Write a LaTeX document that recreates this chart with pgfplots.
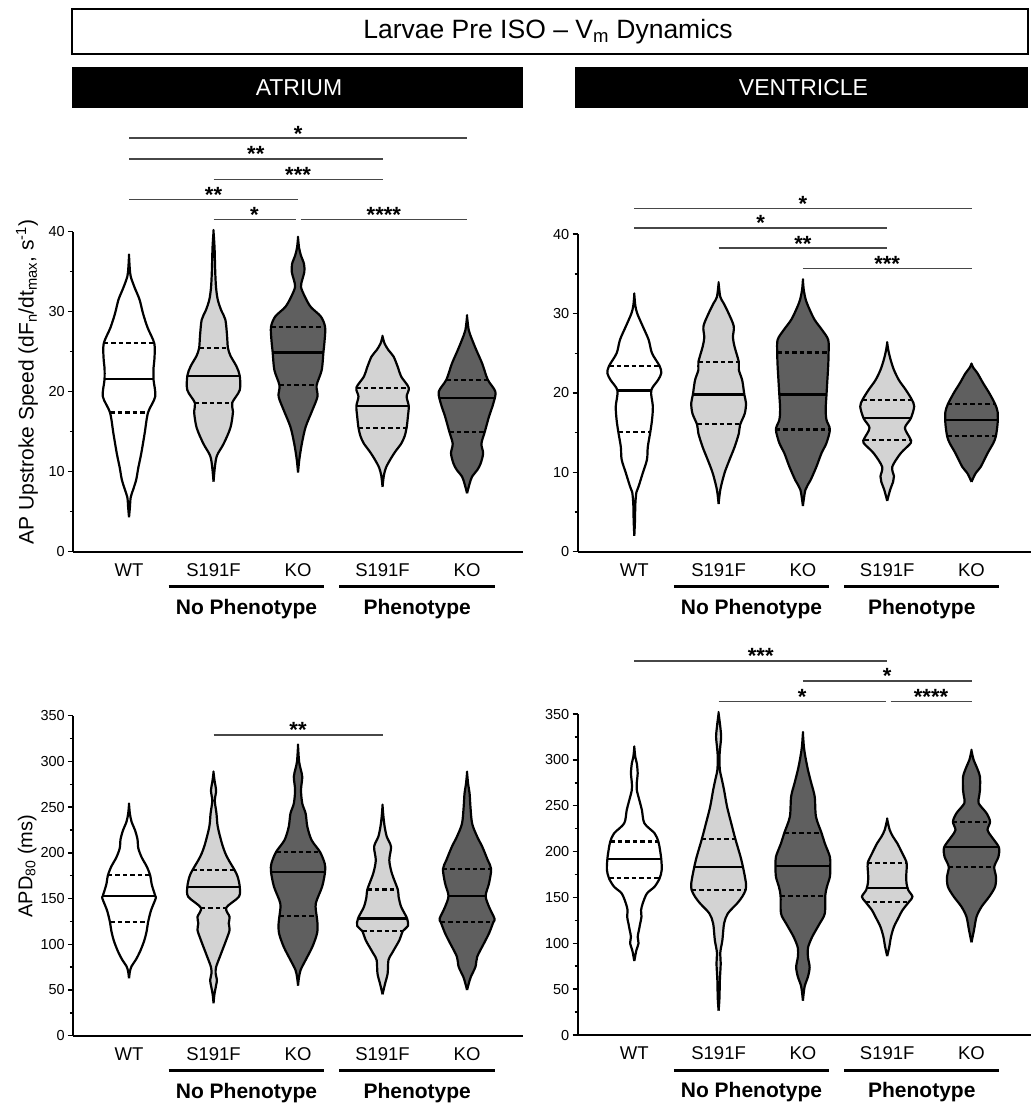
\documentclass[border=0pt]{standalone}
\usepackage{fontspec}
\setmainfont{Liberation Sans}
\usepackage{pgfplots}
\usepackage{pgfplotstable}
\pgfplotsset{compat=1.18}
\definecolor{lg}{HTML}{D3D3D3}
\definecolor{dg}{HTML}{5F5F5F}

% turn a half profile (y, w) into a closed outline: up the right side, down the left side
\newcommand{\mirror}[1]{%
  \pgfplotstablesort[sort key=y, sort cmp={float >}]{\tmprev}{#1}%
  \pgfplotstablecreatecol[create col/set={1}]{s}{#1}%
  \pgfplotstablecreatecol[create col/set={-1}]{s}{\tmprev}%
  \pgfplotstablevertcat{#1}{\tmprev}%
}

% ---------- violin profiles: y, half-width (category units) ----------
\pgfplotstableread{
y w
4.3 0
5.5 0.01
6.8 0.02
7.8 0.05
9.0 0.085
10.5 0.11
12.3 0.145
14.8 0.185
17.4 0.225
19.4 0.31
21.5 0.29
23.0 0.29
24.0 0.30
26.0 0.30
28.0 0.22
29.8 0.165
31.5 0.125
33.0 0.067
34.4 0.02
35.5 0.008
37.0 0
}\TLa
\pgfplotstableread{
y w
8.75 0
10.5 0.015
12.0 0.04
13.5 0.12
15.5 0.20
17.5 0.23
18.6 0.22
20.2 0.31
22.0 0.31
23.2 0.27
24.5 0.20
25.5 0.17
27.0 0.16
29.0 0.14
30.2 0.09
31.5 0.05
33.0 0.03
35.0 0.02
38.0 0.012
40.0 0
}\TLb
\pgfplotstableread{
y w
9.9 0
11.5 0.015
13.5 0.045
15.6 0.09
17.7 0.17
19.4 0.23
20.8 0.22
22.7 0.28
24.9 0.30
26.5 0.315
28.1 0.32
29.4 0.27
30.6 0.15
31.9 0.08
33.1 0.035
34.0 0.05
35.0 0.075
36.0 0.07
37.0 0.035
38.0 0.012
39.25 0
}\TLc
\pgfplotstableread{
y w
8.1 0
9.5 0.015
10.5 0.04
11.5 0.09
12.5 0.15
13.5 0.22
14.4 0.26
15.5 0.285
16.9 0.30
18.2 0.31
19.4 0.285
20.5 0.31
21.9 0.22
23.1 0.18
24.4 0.13
25.2 0.07
26.0 0.025
26.9 0
}\TLd
\pgfplotstableread{
y w
7.3 0
8.5 0.03
9.4 0.06
10.2 0.12
11.0 0.16
12.3 0.19
13.5 0.17
15.0 0.21
16.9 0.26
18.5 0.31
20.0 0.335
21.5 0.245
23.5 0.18
25.2 0.11
26.5 0.06
27.7 0.02
29.4 0
}\TLe
% quartile (dashed) and median (solid) segments: c, +-half width, y
\pgfplotstableread{
c d y
1 -0.225 17.4
1 0.225 17.4
1 0 nan
1 -0.30 26.1
1 0.30 26.1
1 0 nan
2 -0.22 18.6
2 0.22 18.6
2 0 nan
2 -0.17 25.5
2 0.17 25.5
2 0 nan
3 -0.22 20.8
3 0.22 20.8
3 0 nan
3 -0.32 28.1
3 0.32 28.1
3 0 nan
4 -0.285 15.5
4 0.285 15.5
4 0 nan
4 -0.31 20.5
4 0.31 20.5
4 0 nan
5 -0.21 15.0
5 0.21 15.0
5 0 nan
5 -0.245 21.5
5 0.245 21.5
}\TLq
\pgfplotstableread{
c d y
1 -0.29 21.6
1 0.29 21.6
1 0 nan
2 -0.31 22.0
2 0.31 22.0
2 0 nan
3 -0.30 24.9
3 0.30 24.9
3 0 nan
4 -0.31 18.2
4 0.31 18.2
4 0 nan
5 -0.32 19.25
5 0.32 19.25
}\TLm

\pgfplotstableread{
y w
2 0
4 0.008
6 0.012
7.5 0.025
8.2 0.05
9.9 0.10
11.6 0.15
13.2 0.16
15.1 0.19
16.6 0.21
18.3 0.22
20.3 0.20
21.6 0.28
22.5 0.32
23.4 0.30
25 0.21
26.7 0.17
28.4 0.10
30 0.035
31 0.012
32.4 0
}\TRa
\pgfplotstableread{
y w
6 0
7.8 0.02
9.9 0.07
11.6 0.13
13.2 0.19
14.9 0.24
16 0.255
17.4 0.31
18.7 0.325
19.8 0.305
21.6 0.28
22.9 0.24
23.9 0.24
25.8 0.19
27 0.17
28.4 0.18
30 0.12
31.3 0.06
32.1 0.02
33.8 0
}\TRb
\pgfplotstableread{
y w
5.75 0
7.8 0.03
9 0.09
10.7 0.16
12.4 0.22
13.7 0.28
15.4 0.32
16.6 0.28
17.9 0.27
19.8 0.28
21.6 0.29
23.4 0.30
25.1 0.305
26.7 0.30
27.9 0.23
29.2 0.14
30.5 0.08
31.7 0.035
33 0.01
34.2 0
}\TRc
\pgfplotstableread{
y w
6.4 0
7.8 0.035
8.8 0.07
9.5 0.08
10.7 0.06
12.4 0.16
13.7 0.28
14.3 0.27
15.6 0.21
16.8 0.28
18.3 0.32
19.2 0.29
20.4 0.22
21.6 0.14
22.9 0.08
24.2 0.04
25.3 0.015
26.3 0
}\TRd
\pgfplotstableread{
y w
8.8 0
9.9 0.05
10.7 0.11
12.4 0.19
13.7 0.26
14.6 0.29
16.2 0.31
17.6 0.31
18.6 0.28
20 0.21
21.2 0.14
22.5 0.07
23.2 0.02
23.7 0
}\TRe
\pgfplotstableread{
c d y
1 -0.19 15.1
1 0.19 15.1
1 0 nan
1 -0.30 23.4
1 0.30 23.4
1 0 nan
2 -0.255 16.05
2 0.255 16.05
2 0 nan
2 -0.24 23.9
2 0.24 23.9
2 0 nan
3 -0.32 15.4
3 0.32 15.4
3 0 nan
3 -0.305 25.1
3 0.305 25.1
3 0 nan
4 -0.27 14.1
4 0.27 14.1
4 0 nan
4 -0.29 19.1
4 0.29 19.1
4 0 nan
5 -0.29 14.6
5 0.29 14.6
5 0 nan
5 -0.28 18.6
5 0.28 18.6
}\TRq
\pgfplotstableread{
c d y
1 -0.20 20.3
1 0.20 20.3
1 0 nan
2 -0.305 19.8
2 0.305 19.8
2 0 nan
3 -0.28 19.8
3 0.28 19.8
3 0 nan
4 -0.28 16.8
4 0.28 16.8
4 0 nan
5 -0.31 16.6
5 0.31 16.6
}\TRm

\pgfplotstableread{
y w
62.7 0
70 0.01
76 0.03
83 0.08
92 0.13
104 0.18
115 0.21
124 0.225
137 0.26
150 0.315
153 0.31
165 0.27
175.4 0.25
185 0.21
195 0.15
205 0.11
215 0.10
225 0.07
234 0.03
243 0.01
253 0
}\BLa
\pgfplotstableread{
y w
35.4 0
45 0.01
55 0.03
61 0.04
68 0.025
75 0.03
86.4 0.075
104.6 0.15
115.6 0.19
122.9 0.18
130 0.19
140 0.15
152 0.30
163 0.31
174 0.285
181 0.25
192 0.18
199.4 0.14
210 0.10
228.6 0.05
243 0.035
257 0.015
268 0.03
279 0.012
288 0
}\BLb
\pgfplotstableread{
y w
54.7 0
63 0.01
71.8 0.03
82.8 0.09
97.3 0.17
112 0.225
123 0.23
131 0.22
144.7 0.21
163 0.285
179.4 0.32
188.5 0.315
201 0.26
214 0.16
228.6 0.11
243 0.09
254 0.05
268.7 0.035
283 0.05
292 0.03
300 0.012
316.8 0
}\BLc
\pgfplotstableread{
y w
45.2 0
57 0.03
68 0.06
82.8 0.07
90 0.11
104.6 0.20
114.5 0.24
120 0.30
128.3 0.29
141 0.22
152 0.19
160 0.18
177.6 0.11
192 0.08
206.7 0.10
217.7 0.05
228.6 0.025
240 0.01
251.6 0
}\BLd
\pgfplotstableread{
y w
50 0
57 0.02
64.5 0.045
75.5 0.10
86.4 0.12
101 0.20
112 0.26
124 0.31
128 0.325
141 0.26
153 0.22
166.6 0.26
182.3 0.285
192 0.245
206.7 0.18
217.7 0.12
232 0.06
250.5 0.04
265 0.03
276 0.012
287.7 0
}\BLe
\pgfplotstableread{
c d y
1 -0.225 124
1 0.225 124
1 0 nan
1 -0.25 175.4
1 0.25 175.4
1 0 nan
2 -0.15 140
2 0.15 140
2 0 nan
2 -0.25 181.2
2 0.25 181.2
2 0 nan
3 -0.22 130.9
3 0.22 130.9
3 0 nan
3 -0.26 200.9
3 0.26 200.9
3 0 nan
4 -0.24 114.5
4 0.24 114.5
4 0 nan
4 -0.18 160
4 0.18 160
4 0 nan
5 -0.31 124
5 0.31 124
5 0 nan
5 -0.285 182.3
5 0.285 182.3
}\BLq
\pgfplotstableread{
c d y
1 -0.31 153
1 0.31 153
1 0 nan
2 -0.31 163
2 0.31 163
2 0 nan
3 -0.32 179.4
3 0.32 179.4
3 0 nan
4 -0.29 128.3
4 0.29 128.3
4 0 nan
5 -0.22 153
5 0.22 153
}\BLm

\pgfplotstableread{
y w
80.7 0
92.7 0.025
100 0.05
107 0.04
114.5 0.055
121.7 0.07
129 0.085
136 0.08
143.5 0.10
154.4 0.15
161.7 0.24
170.8 0.30
180 0.325
191.5 0.32
201.7 0.305
211 0.285
220 0.24
230.8 0.12
245.3 0.09
256 0.06
267 0.03
276 0.03
285 0.04
296 0.03
303 0.012
313.6 0
}\BRa
\pgfplotstableread{
y w
26.5 0
40 0.01
60 0.015
78 0.025
90 0.02
103.6 0.045
121.7 0.065
132.6 0.11
143.5 0.22
150.8 0.28
158 0.32
165 0.325
176 0.305
182.8 0.29
194.4 0.26
213.3 0.20
230.8 0.15
249 0.10
267 0.065
278 0.04
289 0.015
303 0.01
315 0.02
325 0.03
336 0.02
350.7 0
}\BRb
\pgfplotstableread{
y w
37.4 0
52.7 0.02
63.6 0.06
74 0.08
85 0.06
95 0.06
107 0.11
121.7 0.20
132.6 0.26
152 0.265
161.7 0.285
172.6 0.32
184.2 0.325
194.4 0.32
209 0.26
220.6 0.22
238 0.155
259.8 0.14
274.4 0.10
289 0.06
303 0.03
314 0.012
328.9 0
}\BRc
\pgfplotstableread{
y w
86 0
96.3 0.025
107 0.045
118 0.08
129 0.14
136 0.18
145.4 0.26
150.8 0.30
158 0.25
165 0.23
172.6 0.225
180 0.23
188 0.23
198 0.18
209 0.12
216 0.07
223.5 0.03
235 0
}\BRd
\pgfplotstableread{
y w
101 0
114.5 0.03
129 0.06
140 0.12
150.8 0.21
161.7 0.28
172.6 0.29
183.5 0.27
194.4 0.32
204.6 0.325
216 0.24
223.5 0.19
232.6 0.22
241.7 0.18
252.6 0.085
260 0.09
267 0.10
281.6 0.10
292.5 0.06
300 0.025
310 0
}\BRe
\pgfplotstableread{
c d y
1 -0.30 170.8
1 0.30 170.8
1 0 nan
1 -0.285 211
1 0.285 211
1 0 nan
2 -0.32 158
2 0.32 158
2 0 nan
2 -0.20 213.3
2 0.20 213.3
2 0 nan
3 -0.265 152
3 0.265 152
3 0 nan
3 -0.22 220.6
3 0.22 220.6
3 0 nan
4 -0.26 145.4
4 0.26 145.4
4 0 nan
4 -0.23 187.9
4 0.23 187.9
4 0 nan
5 -0.27 183.5
5 0.27 183.5
5 0 nan
5 -0.22 232.6
5 0.22 232.6
}\BRq
\pgfplotstableread{
c d y
1 -0.32 191.5
1 0.32 191.5
1 0 nan
2 -0.29 182.8
2 0.29 182.8
2 0 nan
3 -0.325 184.2
3 0.325 184.2
3 0 nan
4 -0.245 160.6
4 0.245 160.6
4 0 nan
5 -0.325 204.6
5 0.325 204.6
}\BRm

\mirror{\TLa}\mirror{\TLb}\mirror{\TLc}\mirror{\TLd}\mirror{\TLe}
\mirror{\TRa}\mirror{\TRb}\mirror{\TRc}\mirror{\TRd}\mirror{\TRe}
\mirror{\BLa}\mirror{\BLb}\mirror{\BLc}\mirror{\BLd}\mirror{\BLe}
\mirror{\BRa}\mirror{\BRb}\mirror{\BRc}\mirror{\BRd}\mirror{\BRe}

% ---------- helpers ----------
\newcommand{\violin}[3]{% table, center, fill
  \addplot[vline, fill=#3, smooth, forget plot] table[x expr={#2+\thisrow{s}*\thisrow{w}}, y=y] {#1};
}
\newcommand{\quarts}[2]{%
  \addplot[qline, dash pattern=on 4.5pt off 3pt] table[x expr={\thisrow{c}+\thisrow{d}}, y=y] {#1};
  \addplot[qline] table[x expr={\thisrow{c}+\thisrow{d}}, y=y] {#2};
}
\newcommand{\groups}{%
  \draw[line width=3pt] ([yshift=-35pt]axis cs:1.47,0) -- ([yshift=-35pt]axis cs:3.31,0);
  \draw[line width=3pt] ([yshift=-35pt]axis cs:3.49,0) -- ([yshift=-35pt]axis cs:5.33,0);
  \node[grp] at ([yshift=-62.5pt]axis cs:2.39,0) {No Phenotype};
  \node[grp] at ([yshift=-62.5pt]axis cs:4.41,0) {Phenotype};
}
\newcommand{\sigbar}[5]{% x1, x2, xmid, y, stars
  \draw[sig] (axis cs:#1,#4) -- (axis cs:#2,#4);
  \node[st] at (axis cs:#3,#4) {#5};
}

\pgfplotsset{
  vline/.style={draw=black, line width=2.2pt, mark=none, line join=round},
  qline/.style={black, line width=2.2pt, mark=none, forget plot, unbounded coords=jump},
  vaxis/.style={
    scale only axis, axis lines=left, axis line style={-, line width=2pt},
    clip=false, ymin=0,
    xtick={1,2,3,4,5}, xticklabels={WT,S191F,KO,S191F,KO},
    xtick style={draw=none},
    tick align=outside, major tick length=5pt, minor tick length=3pt,
    ytick style={black, line width=1.5pt},
    minor y tick num=1,
    /pgf/number format/assume math mode=true,
    yticklabel style={font=\fontsize{14.5}{14.5}\selectfont, inner sep=0pt, xshift=-3pt},
    xticklabel style={font=\fontsize{18.5}{18.5}\selectfont, inner sep=0pt, yshift=-6pt,
      text height=13.3pt, text depth=0pt},
    ylabel style={font=\fontsize{20}{20}\selectfont, at={(axis description cs:-0.102,0.53)}, anchor=center},
  },
}
\tikzset{
  sig/.style={black!72, line width=1.4pt},
  st/.style={font=\fontsize{22}{22}\selectfont\bfseries, anchor=base, inner sep=0pt, yshift=-3pt},
  grp/.style={font=\fontsize{21}{21}\selectfont\bfseries, anchor=base, inner sep=0pt},
}

\begin{document}
\begin{tikzpicture}
\path[use as bounding box] (0,0) rectangle (1032pt,-1104pt);

% ---- top left: atrium upstroke ----
\begin{axis}[vaxis, at={(73pt,-551.7pt)}, anchor=south west,
  width=450pt, height=320pt, xmin=0.337, xmax=5.662, ymax=40,
  ytick={0,10,20,30,40},
  ylabel style={font=\fontsize{21}{21}\selectfont},
  ylabel={AP Upstroke Speed (dF\textsubscript{n}/dt\textsubscript{max}, s\textsuperscript{-1})}]
\violin{\TLa}{1}{white}
\violin{\TLb}{2}{lg}
\violin{\TLc}{3}{dg}
\violin{\TLd}{4}{lg}
\violin{\TLe}{5}{dg}
\quarts{\TLq}{\TLm}
\sigbar{1}{5}{3}{51.7}{*}
\sigbar{1}{4}{2.5}{49.1}{**}
\sigbar{2}{4}{3}{46.5}{***}
\sigbar{1}{3}{2}{44.05}{**}
\sigbar{2}{2.97}{2.485}{41.5}{*}
\sigbar{3.03}{5}{4.015}{41.5}{****}
\groups
\end{axis}

% ---- top right: ventricle upstroke ----
\begin{axis}[vaxis, at={(577.5pt,-551.7pt)}, anchor=south west,
  width=453pt, height=317.5pt, xmin=0.326, xmax=5.70, ymax=40,
  ytick={0,10,20,30,40}]
\violin{\TRa}{1}{white}
\violin{\TRb}{2}{lg}
\violin{\TRc}{3}{dg}
\violin{\TRd}{4}{lg}
\violin{\TRe}{5}{dg}
\quarts{\TRq}{\TRm}
\sigbar{1}{5}{3}{43.25}{*}
\sigbar{1}{4}{2.5}{40.8}{*}
\sigbar{2}{4}{3}{38.25}{**}
\sigbar{3}{5}{4}{35.7}{***}
\groups
\end{axis}

% ---- bottom left: atrium APD80 ----
\begin{axis}[vaxis, at={(73pt,-1035.7pt)}, anchor=south west,
  width=450pt, height=320pt, xmin=0.337, xmax=5.662, ymax=350,
  ytick={0,50,100,150,200,250,300,350},
  ylabel={APD\textsubscript{80} (ms)}]
\violin{\BLa}{1}{white}
\violin{\BLb}{2}{lg}
\violin{\BLc}{3}{dg}
\violin{\BLd}{4}{lg}
\violin{\BLe}{5}{dg}
\quarts{\BLq}{\BLm}
\sigbar{2}{4}{3}{329}{**}
\groups
\end{axis}

% ---- bottom right: ventricle APD80 ----
\begin{axis}[vaxis, at={(577.5pt,-1035pt)}, anchor=south west,
  width=453pt, height=321pt, xmin=0.326, xmax=5.70, ymax=350,
  ytick={0,50,100,150,200,250,300,350}]
\violin{\BRa}{1}{white}
\violin{\BRb}{2}{lg}
\violin{\BRc}{3}{dg}
\violin{\BRd}{4}{lg}
\violin{\BRe}{5}{dg}
\quarts{\BRq}{\BRm}
\sigbar{1}{4}{2.5}{408}{***}
\sigbar{3}{5}{4}{386}{*}
\sigbar{2}{3.98}{2.99}{363.5}{*}
\sigbar{4.04}{5}{4.52}{363.5}{****}
\groups
\end{axis}

% ---- headers ----
\draw[line width=2pt, fill=white] (72pt,-9pt) rectangle (1028pt,-54pt);
\node[font=\fontsize{26.5}{26.5}\selectfont] at (548pt,-31.5pt) {Larvae Pre ISO -- V\textsubscript{m} Dynamics};
\fill[black] (72pt,-67pt) rectangle (523pt,-108pt);
\node[white, font=\fontsize{23}{23}\selectfont] at (299pt,-87.5pt) {ATRIUM};
\fill[black] (574.5pt,-67pt) rectangle (1028pt,-108pt);
\node[white, font=\fontsize{23}{23}\selectfont] at (803.5pt,-87.5pt) {VENTRICLE};
\end{tikzpicture}
\end{document}
